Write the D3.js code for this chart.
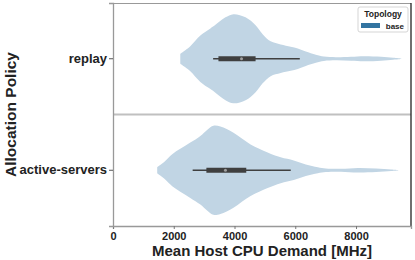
<!DOCTYPE html>
<html lang="en">
	<head>
		<meta charset="utf-8">
		<title>Violin plot</title>
		<script src="https://d3js.org/d3.v7.min.js"></script>
		<style type="text/css">
			body { margin: 0; background: #fff; }
			text { font-family: "Liberation Sans", Arial, sans-serif; fill: #222; }
		</style>
	</head>
	<body>
<div id="chart"></div>
		<script type="text/javascript">
//Data
var policies = ["replay", "active-servers"];
var xTicks = [0, 2000, 4000, 6000, 8000];

//density profile (MHz grid, relative width)
var replayGrid = [2215, 2380, 2545, 2876, 3207, 3372, 3537, 3702, 3967, 4364, 4694, 4926, 5190, 5521, 5851, 6083, 6347, 6678, 6942, 7339, 7835, 8264, 8826, 9223, 9488];
var replayDensity = [0.11, 0.19, 0.28, 0.52, 0.68, 0.76, 0.85, 0.93, 1.00, 0.93, 0.75, 0.55, 0.39, 0.32, 0.27, 0.23, 0.16, 0.09, 0.05, 0.035, 0.045, 0.057, 0.045, 0.023, 0.007];
var activeGrid = [1455, 1719, 1950, 2215, 2545, 2876, 3107, 3306, 3537, 3967, 4529, 5091, 5521, 5950, 6347, 6744, 7008, 7504, 8066, 8661, 9157, 9388];
var activeDensity = [0.07, 0.21, 0.36, 0.48, 0.62, 0.77, 0.91, 1.00, 0.98, 0.84, 0.58, 0.40, 0.29, 0.22, 0.13, 0.067, 0.04, 0.033, 0.051, 0.04, 0.018, 0.007];

//box stats: whisker low, q1, median, q3, whisker high
var replayBox = [3296, 3471, 4231, 4694, 6149];
var activeBox = [2622, 3074, 3702, 4387, 5851];

var violins = [
	{name: policies[0], grid: replayGrid, dens: replayDensity, box: replayBox},
	{name: policies[1], grid: activeGrid, dens: activeDensity, box: activeBox}
];

//Width and height
var w = 415;
var h = 260;
var pLeft = 113, pRight = 411, pTop = 3, pBottom = 226;

var xScale = d3.scaleLinear()
	.domain([0, 9810])
	.range([pLeft, pRight]);

var yScale = d3.scaleBand()
	.domain(policies)
	.range([pTop, pBottom]);

var wScale = d3.scaleLinear()
	.domain([0, 1])
	.range([0, yScale.bandwidth() * 0.4]);

var svg = d3.select("div#chart")
	.append("svg")
	.attr("width", w)
	.attr("height", h);

//violins
var area = d3.area()
	.curve(d3.curveCatmullRom)
	.x(d => xScale(d.v));

violins.forEach(function (vi) {
	var cy = yScale(vi.name) + yScale.bandwidth() / 2;
	var pts = vi.grid.map((v, i) => ({v: v, d: vi.dens[i]}));
	area.y0(d => cy - wScale(d.d)).y1(d => cy + wScale(d.d));
	svg.append("path")
		.datum(pts)
		.attr("d", area)
		.attr("fill", "#c1d5e4");

	//inner box
	svg.append("line")
		.attr("x1", xScale(vi.box[0]))
		.attr("x2", xScale(vi.box[4]))
		.attr("y1", cy).attr("y2", cy)
		.attr("stroke", "#3f3f3f")
		.attr("stroke-width", 1.3);
	svg.append("line")
		.attr("x1", xScale(vi.box[1]))
		.attr("x2", xScale(vi.box[3]))
		.attr("y1", cy).attr("y2", cy)
		.attr("stroke", "#3f3f3f")
		.attr("stroke-width", 5);
	svg.append("circle")
		.attr("cx", xScale(vi.box[2]))
		.attr("cy", cy)
		.attr("r", 1.5)
		.attr("fill", "#fff")
		.attr("opacity", 0.5);
});

//facet divider
svg.append("line")
	.attr("x1", pLeft).attr("x2", pRight)
	.attr("y1", yScale(policies[1])).attr("y2", yScale(policies[1]))
	.attr("stroke", "#c0c0c0")
	.attr("stroke-width", 2);

//spines
svg.append("line").attr("x1", pLeft).attr("x2", pRight).attr("y1", pTop + 0.5).attr("y2", pTop + 0.5)
	.attr("stroke", "#999").attr("stroke-width", 1);
svg.append("line").attr("x1", pRight).attr("x2", pRight).attr("y1", pTop).attr("y2", pBottom)
	.attr("stroke", "#222").attr("stroke-width", 1.3);

//X axis
var xAxis = d3.axisBottom(xScale)
	.tickValues(xTicks)
	.tickFormat(d3.format("d"))
	.tickSize(3)
	.tickPadding(3);

var gx = svg.append("g")
	.attr("transform", "translate(0," + pBottom + ")")
	.call(xAxis);
gx.select(".domain").attr("stroke", "#999").attr("stroke-width", 1.3);
gx.selectAll(".tick line").attr("stroke", "#777");
gx.selectAll("text")
	.style("font-size", "11px")
	.style("font-weight", "bold")
	.attr("fill", "#222");

//Y axis
var yAxis = d3.axisLeft(yScale)
	.tickSize(4)
	.tickPadding(2);

var gy = svg.append("g")
	.attr("transform", "translate(" + pLeft + ",0)")
	.call(yAxis);
gy.select(".domain").attr("stroke", "#999").attr("stroke-width", 1.3);
gy.selectAll(".tick line").attr("stroke", "#555");
gy.selectAll("text")
	.style("font-size", "13px")
	.style("font-weight", "bold")
	.attr("fill", "#222");

//axis titles
svg.append("text")
	.attr("x", (pLeft + pRight) / 2)
	.attr("y", 256)
	.attr("text-anchor", "middle")
	.style("font-size", "15px")
	.style("font-weight", "bold")
	.text("Mean Host CPU Demand [MHz]");

svg.append("text")
	.attr("transform", "translate(16," + ((pTop + pBottom) / 2) + ") rotate(-90)")
	.attr("text-anchor", "middle")
	.style("font-size", "15.5px")
	.style("font-weight", "bold")
	.text("Allocation Policy");

//legend
var lg = svg.append("g").attr("transform", "translate(358,7)");
lg.append("rect")
	.attr("width", 50).attr("height", 25)
	.attr("rx", 2)
	.attr("fill", "#fff")
	.attr("stroke", "#d5d5d5");
lg.append("text")
	.attr("x", 25).attr("y", 9.5)
	.attr("text-anchor", "middle")
	.style("font-size", "8.5px")
	.style("font-weight", "bold")
	.text("Topology");
lg.append("rect")
	.attr("x", 3).attr("y", 16)
	.attr("width", 19).attr("height", 5)
	.attr("fill", "#3274a1");
lg.append("text")
	.attr("x", 46).attr("y", 21.5)
	.attr("text-anchor", "end")
	.style("font-size", "8px")
	.style("font-weight", "bold")
	.text("base");

		</script>
	</body>
</html>
